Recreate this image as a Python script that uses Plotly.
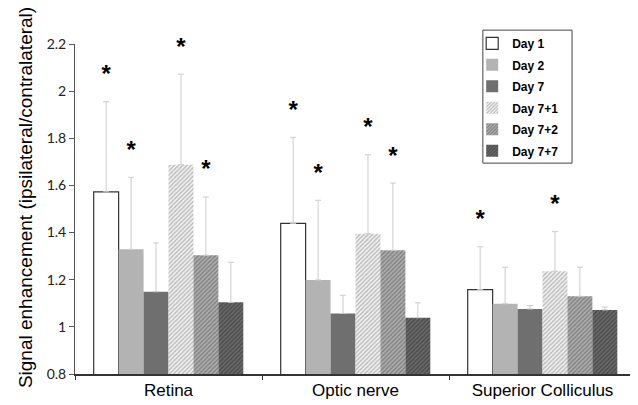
import plotly.graph_objects as go

categories = ["Retina", "Optic nerve", "Superior Colliculus"]
series_names = ["Day 1", "Day 2", "Day 7", "Day 7+1", "Day 7+2", "Day 7+7"]
values = {
    "Day 1":   [1.573, 1.439, 1.158],
    "Day 2":   [1.329, 1.199, 1.098],
    "Day 7":   [1.149, 1.057, 1.076],
    "Day 7+1": [1.688, 1.395, 1.236],
    "Day 7+2": [1.304, 1.325, 1.130],
    "Day 7+7": [1.104, 1.039, 1.072],
}
error_top = {
    "Day 1":   [1.955, 1.804, 1.340],
    "Day 2":   [1.634, 1.537, 1.253],
    "Day 7":   [1.356, 1.134, 1.090],
    "Day 7+1": [2.072, 1.730, 1.404],
    "Day 7+2": [1.551, 1.610, 1.253],
    "Day 7+7": [1.274, 1.102, 1.084],
}
significant = {
    "Day 1":   [True, True, True],
    "Day 2":   [True, True, False],
    "Day 7":   [False, False, False],
    "Day 7+1": [True, True, True],
    "Day 7+2": [True, True, False],
    "Day 7+7": [False, False, False],
}
y_title = "Signal enhancement (ipsilateral/contralateral)"

styles = {
    "Day 1":   dict(color="white", pattern=None),
    "Day 2":   dict(color="#b3b3b3", pattern=None),
    "Day 7":   dict(color="#6f6f6f", pattern=None),
    "Day 7+1": dict(color="white", pattern=dict(shape="/", fgcolor="#7a7a7a", bgcolor="#f4f4f4", size=3, solidity=0.45)),
    "Day 7+2": dict(color="#a8a8a8", pattern=dict(shape="/", fgcolor="#4a4a4a", bgcolor="#b0b0b0", size=3, solidity=0.45)),
    "Day 7+7": dict(color="#5a5a5a", pattern=dict(shape="/", fgcolor="#2a2a2a", bgcolor="#6a6a6a", size=3, solidity=0.45)),
}

fig = go.Figure()
for i, name in enumerate(series_names):
    st = styles[name]
    marker = dict(color=st["color"],
                  line=dict(color="#333333" if name == "Day 1" else "rgba(0,0,0,0)",
                            width=1.2 if name == "Day 1" else 0))
    if st["pattern"]:
        marker["pattern"] = st["pattern"]
    err = [t - v for t, v in zip(error_top[name], values[name])]
    fig.add_trace(go.Bar(
        name=name, x=categories, y=values[name], marker=marker,
        offsetgroup=str(i), legendgroup=name,
        error_y=dict(type="data", array=err, arrayminus=[0] * 3, symmetric=False,
                     color="#cccccc", thickness=1, width=3),
    ))

for i, name in enumerate(series_names):
    ys = [t if s else None for t, s in zip(error_top[name], significant[name])]
    fig.add_trace(go.Scatter(
        x=categories, y=ys, mode="markers+text", text=["*"] * 3,
        marker=dict(size=20, color="rgba(0,0,0,0)"),
        textposition="top center", offsetgroup=str(i),
        textfont=dict(size=24, color="black", family="Liberation Sans", weight="bold"),
        showlegend=False, hoverinfo="skip", cliponaxis=False,
    ))

# the page body adds an 8px offset; the figure is sized to compensate
fig.update_layout(
    width=630, height=397,
    margin=dict(l=67, r=2, t=36, b=31),
    barmode="group", bargap=0.2, bargroupgap=0,
    scattermode="group", scattergap=0.2,
    plot_bgcolor="white", paper_bgcolor="white",
    showlegend=True,
    legend=dict(x=0.708, y=1.046, xanchor="left", yanchor="top",
                borderwidth=0, bgcolor="rgba(255,255,255,0)",
                font=dict(family="Liberation Sans", size=12, color="black", weight="bold"),
                tracegroupgap=2.5, itemwidth=30),
    font=dict(family="Liberation Sans", color="black"),
    shapes=[dict(type="rect", xref="paper", yref="paper",
                 x0=0.727, x1=0.886, y0=0.639, y1=1.042,
                 line=dict(color="#444444", width=1), fillcolor="rgba(0,0,0,0)", layer="above")],
    annotations=[dict(text=y_title, xref="paper", yref="paper", x=0, y=0.533,
                      xshift=-50, textangle=-90, showarrow=False,
                      xanchor="center", yanchor="middle",
                      font=dict(family="Liberation Sans", size=19, color="black"))],
)
fig.update_yaxes(
    range=[0.8, 2.2], dtick=0.2, tickformat="~g", automargin=False,
    showgrid=False, zeroline=False, showline=True, linecolor="#555555", linewidth=1,
    ticks="outside", ticklen=5, tickcolor="#555555",
    tickfont=dict(family="Lato", size=14, color="#222222"),
)
fig.update_xaxes(
    automargin=False,
    showgrid=False, showline=True, linecolor="#333333", linewidth=1.5,
    ticks="outside", tickson="boundaries", ticklen=4, tickcolor="#333333",
    tickfont=dict(family="Liberation Sans", size=17, color="black"),
)

fig.write_html("out.html")
